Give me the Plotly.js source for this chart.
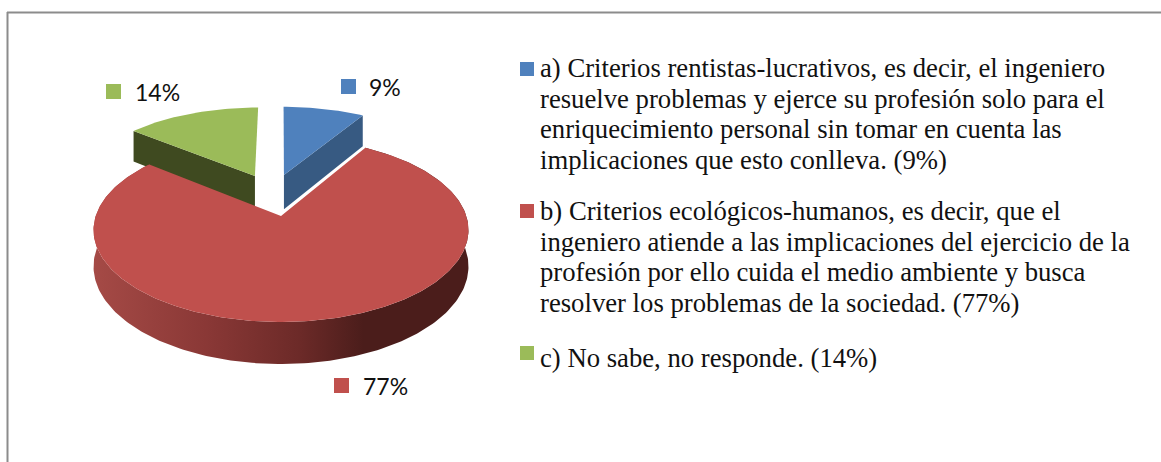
<!DOCTYPE html>
<html><head><meta charset="utf-8">
<script src="https://cdn.plot.ly/plotly-3.0.1.min.js"></script>
<style>html,body{margin:0;padding:0;background:#fff}#c{width:1161px;height:462px}</style>
</head><body><div id="c"></div>
<script>
var categories = ["a)", "b)", "c)"];
var values = [8.6, 77.2, 14.2];
var percentLabels = ["9%", "77%", "14%"];
var legendLines = [
  "a) Criterios rentistas-lucrativos, es decir, el ingeniero",
  "resuelve problemas y ejerce su profesión solo para el",
  "enriquecimiento personal sin tomar en cuenta las",
  "implicaciones que esto conlleva. (9%)",
  "b) Criterios ecológicos-humanos, es decir, que el",
  "ingeniero atiende a las implicaciones del ejercicio de la",
  "profesión por ello cuida el medio ambiente y busca",
  "resolver los problemas de la sociedad. (77%)",
  "c) No sabe, no responde. (14%)"
];
var legendLineY = [68, 98.5, 129, 160, 211, 241.5, 272, 303, 358];
var topColors = ["#4f81bd", "#c0504d", "#9bbb59"];
var wallColors = ["#375a82", "#4b1d1b", "#3f4a20"];

// Perspective projection of the tilted pie
var P = {ox:281, oy:216, A:185.3, B:89.9, p:0.152, D:35.6};
var explode = [[0.017,0.49],[0,0],[-0.151,0.478]];
function proj(X,Y,low){
  var w = 1+P.p*Y;
  return [P.ox+P.A*X/w, P.oy-P.B*Y/w+(low?P.D/w:0)];
}
var total = values.reduce(function(a,b){return a+b;},0);
var ranges = [], acc = 0;
values.forEach(function(v){ranges.push([acc/total*2*Math.PI,(acc+v)/total*2*Math.PI]);acc+=v;});
function arc(i,a0,a1,low){
  var e=explode[i],pts=[],n=Math.max(2,Math.ceil(Math.abs(a1-a0)/0.02));
  for(var k=0;k<=n;k++){var t=a0+(a1-a0)*k/n;pts.push(proj(e[0]+Math.sin(t),e[1]+Math.cos(t),low));}
  return pts;
}
function poly(pts,color,extra){
  var t={type:"scatter",mode:"lines",x:pts.map(function(q){return q[0];}).concat([pts[0][0]]),
    y:pts.map(function(q){return q[1];}).concat([pts[0][1]]),
    fill:"toself",fillcolor:color,line:{width:0,color:color},hoverinfo:"skip",showlegend:false};
  for(var k in extra)t[k]=extra[k];
  return t;
}
function topFace(i){
  var e=explode[i];
  return poly([proj(e[0],e[1],false)].concat(arc(i,ranges[i][0],ranges[i][1],false)),topColors[i]);
}
function radialWall(i,ang,grow){
  var e=explode[i],ap=proj(e[0],e[1],false),apl=proj(e[0],e[1],true),
      tp=proj(e[0]+Math.sin(ang),e[1]+Math.cos(ang),false),tl=proj(e[0]+Math.sin(ang),e[1]+Math.cos(ang),true);
  apl[1]+=grow; tl[1]+=grow;
  return poly([ap,tp,tl,apl],wallColors[i]);
}
var traces=[];
traces.push(radialWall(2,ranges[2][0],0));
traces.push(topFace(2));
traces.push(radialWall(0,ranges[0][1],1.2));
traces.push(topFace(0));
var frontTop=arc(1,ranges[1][0],ranges[1][1],false), frontLow=arc(1,ranges[1][0],ranges[1][1],true).reverse();
traces.push(poly(frontTop.concat(frontLow),"#7a2f2d",{
  fillgradient:{type:"horizontal",colorscale:[[0,"#a54a46"],[0.3,"#8a3836"],[0.55,"#6c2a28"],[0.72,"#4b1d1b"],[1,"#4b1d1b"]]}
}));
traces.push(topFace(1));

var labelSwatchX=[348.5,341.5,113.5], labelSwatchY=[86.5,385.5,91.5];
traces.push({type:"scatter",mode:"markers",x:labelSwatchX,y:labelSwatchY,
  marker:{symbol:"square",size:15,color:topColors,line:{width:0}},hoverinfo:"skip",showlegend:false});
var legendSwatchX=[527,527,527], legendSwatchY=[69,211,353];
traces.push({type:"scatter",mode:"markers",x:legendSwatchX,y:legendSwatchY,
  marker:{symbol:"square",size:14,color:topColors,line:{width:0}},hoverinfo:"skip",showlegend:false});

var labelX=[367,360.5,132.5], labelY=[87,386,92];
var annotations=[];
percentLabels.forEach(function(s,i){
  annotations.push({x:labelX[i],y:labelY[i],xref:"x",yref:"y",text:s,showarrow:false,xanchor:"left",yanchor:"middle",
    font:{family:"Lato, Carlito, sans-serif",size:23,color:"#111"}});
});
legendLines.forEach(function(s,i){
  annotations.push({x:537.7,y:legendLineY[i],xref:"x",yref:"y",text:s,showarrow:false,xanchor:"left",yanchor:"middle",align:"left",
    font:{family:"Liberation Serif, serif",size:26.7,color:"#111"}});
});
var layout={
  width:1161,height:462,margin:{l:0,r:0,t:0,b:0},paper_bgcolor:"#fff",plot_bgcolor:"#fff",showlegend:false,
  xaxis:{range:[0,1161],visible:false,fixedrange:true},
  yaxis:{range:[462,0],visible:false,fixedrange:true},
  annotations:annotations,
  shapes:[{type:"line",xref:"x",yref:"y",x0:7.5,x1:7.5,y0:12,y1:462,line:{color:"#8c8c8c",width:2}},
          {type:"line",xref:"x",yref:"y",x0:7,x1:1161,y0:12.5,y1:12.5,line:{color:"#8c8c8c",width:2}}]
};
Plotly.newPlot("c",traces,layout,{displayModeBar:false,staticPlot:true});
</script></body></html>
